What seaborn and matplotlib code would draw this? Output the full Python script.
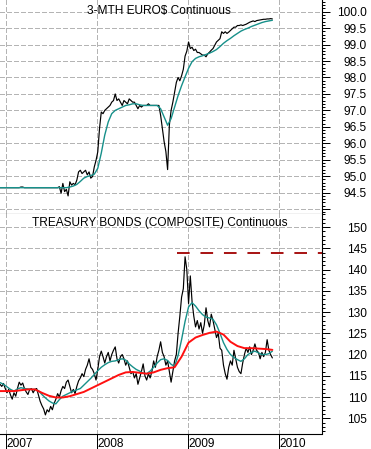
import matplotlib
matplotlib.use("Agg")
import matplotlib.pyplot as plt
import matplotlib.dates as mdates
import matplotlib.ticker as mticker
import pandas as pd
import seaborn as sns

# weekly closes, first week ending 2006-12-08
first_week = "2006-12-08"

euro_close = [
    94.65, 94.65, 94.65, 94.65, 94.65, 94.65, 94.65, 94.65, 94.65, 94.65,
    94.65, 94.65, 94.67, 94.67, 94.65, 94.65, 94.65, 94.65, 94.65, 94.65,
    94.65, 94.65, 94.65, 94.65, 94.65, 94.65, 94.65, 94.65, 94.65, 94.65,
    94.65, 94.65, 94.65, 94.65, 94.68, 94.48, 94.78, 94.53, 94.60, 94.40,
    94.83, 94.73, 94.78, 94.74, 94.88, 95.13, 95.18, 95.08, 95.13, 95.18,
    95.04, 95.13, 94.94, 94.99, 95.28, 95.48, 95.74, 96.45, 96.95, 96.90,
    97.00, 97.05, 97.10, 97.15, 97.25, 97.30, 97.50, 97.30, 97.35, 97.25,
    97.15, 97.30, 97.25, 97.20, 97.35, 97.30, 97.25, 97.25, 97.15, 97.05,
    97.15, 97.10, 97.15, 97.15, 97.15, 97.20, 97.15, 97.15, 97.15, 97.15,
    97.15, 97.15, 96.85, 96.45, 96.05, 95.75, 95.20, 96.55, 97.00, 97.25,
    97.55, 97.85, 98.00, 97.90, 98.05, 98.25, 98.65, 98.80, 99.08, 98.88,
    98.92, 98.82, 98.86, 98.76, 98.76, 98.72, 98.68, 98.68, 98.63, 98.72,
    98.77, 98.83, 98.88, 98.98, 99.08, 99.13, 99.18, 99.39, 99.34, 99.39,
    99.34, 99.38, 99.43, 99.48, 99.53, 99.53, 99.58, 99.58, 99.60, 99.58,
    99.60, 99.62, 99.65, 99.68, 99.70, 99.72, 99.70, 99.73, 99.74, 99.75,
    99.76, 99.77, 99.77, 99.78, 99.78, 99.79, 99.78,
]

# moving average, every two weeks
euro_ma = [
    94.65, 94.65, 94.65, 94.65, 94.65, 94.65, 94.65, 94.65, 94.65, 94.65,
    94.65, 94.65, 94.65, 94.65, 94.65, 94.65, 94.65, 94.65, 94.65, 94.65,
    94.67, 94.70, 94.75, 94.84, 94.94, 94.99, 95.02, 95.06, 95.24, 95.70,
    96.25, 96.65, 96.90, 97.00, 97.05, 97.10, 97.15, 97.17, 97.20, 97.20,
    97.17, 97.15, 97.15, 97.15, 97.15, 97.15, 97.05, 96.80, 96.55, 96.75,
    97.10, 97.45, 97.75, 98.02, 98.28, 98.48, 98.58, 98.63, 98.66, 98.70,
    98.74, 98.79, 98.85, 98.94, 99.04, 99.12, 99.19, 99.27, 99.34, 99.41,
    99.46, 99.50, 99.55, 99.59, 99.63, 99.67, 99.70, 99.72, 99.74,
]

bond_close = [
    113.0, 112.5, 113.2, 112.0, 111.0, 111.8, 110.5, 109.5, 111.0, 110.2,
    112.0, 113.5, 112.8, 113.3, 112.0, 111.2, 110.6, 111.8, 112.0, 111.0,
    111.8, 112.0, 110.5, 109.0, 108.0, 107.2, 105.8, 107.0, 106.5, 107.8,
    107.0, 108.5, 109.5, 110.8, 110.0, 111.5, 112.5, 112.0, 113.5, 114.0,
    112.5, 111.0, 111.8, 110.8, 112.5, 113.8, 114.5, 115.5, 114.8, 116.5,
    117.5, 119.0, 117.0, 116.5, 115.5, 114.0, 116.5, 119.5, 120.8, 119.5,
    118.0, 119.5, 120.5, 118.5, 120.0, 121.0, 121.8, 119.0, 118.0, 119.5,
    120.0, 119.0, 117.5, 118.5, 117.0, 115.5, 116.0, 114.5, 115.5, 113.0,
    114.5, 116.0, 117.8, 115.0, 114.0, 115.5, 114.5, 116.0, 118.5, 117.0,
    119.5, 121.0, 123.0, 120.5, 119.5, 117.5, 118.5, 116.0, 113.5, 116.0,
    118.5, 120.0, 125.0, 129.0, 133.5, 135.5, 143.0, 140.0, 132.0, 138.5,
    132.5, 129.0, 126.5, 128.0, 126.0, 127.5, 125.0, 127.0, 131.0, 128.0,
    126.5, 129.5, 128.0, 126.0, 124.0, 125.0, 121.5, 121.0, 117.5, 115.5,
    114.2, 117.0, 118.5, 117.5, 121.0, 119.0, 117.0, 116.0, 115.5, 118.0,
    120.0, 121.5, 120.5, 121.8, 120.0, 121.0, 122.5, 121.0, 120.5, 119.0,
    120.5, 119.5, 120.5, 123.5, 121.0, 120.0, 119.2,
]

# short average, every two weeks
bond_ma_short = [
    113.4, 113.0, 112.4, 111.8, 111.4, 111.9, 112.2, 112.0, 111.9, 111.8,
    111.8, 111.5, 110.6, 109.8, 109.1, 108.6, 108.4, 109.4, 110.2, 110.6,
    111.0, 111.4, 111.7, 112.0, 112.8, 113.6, 114.4, 115.3, 116.2, 117.0,
    117.6, 118.1, 118.4, 118.5, 118.8, 119.0, 118.7, 117.8, 117.1, 116.5,
    116.1, 115.6, 115.5, 116.1, 117.0, 118.0, 118.8, 119.0, 118.6, 117.7,
    117.2, 119.8, 123.5, 127.8, 131.2, 132.2, 131.4, 130.3, 129.4, 128.8,
    128.6, 128.3, 127.0, 125.0, 122.8, 121.2, 120.0, 119.3, 118.8, 118.4,
    119.0, 120.0, 120.5, 120.8, 120.4, 120.0, 120.0, 120.2, 120.8,
]

# long average, every four weeks
bond_ma_long = [
    111.4, 111.4, 111.4, 111.6, 111.8, 111.8, 111.0, 110.3, 109.9, 109.9,
    110.2, 110.7, 111.2, 112.0, 112.8, 113.6, 114.4, 115.2, 115.8, 115.9,
    115.7, 115.5, 115.8, 116.4, 116.8, 117.0, 119.5, 122.8, 124.0, 124.6,
    125.1, 125.4, 124.7, 123.0, 122.0, 121.5, 121.5, 121.4, 121.3, 121.1,
]

euro_title = "3-MTH EURO$ Continuous"
bond_title = "TREASURY BONDS (COMPOSITE) Continuous"
resistance_level = 144.0
resistance_start = "2008-11-16"

euro_ticks = [94.0, 94.5, 95.0, 95.5, 96.0, 96.5, 97.0, 97.5, 98.0, 98.5, 99.0, 99.5, 100.0]
bond_ticks = [105, 110, 115, 120, 125, 130, 135, 140, 145, 150]
year_starts = ["2007-01-01", "2008-01-01", "2009-01-01", "2010-01-01"]

x_start = pd.Timestamp("2006-12-08")
x_end = pd.Timestamp("2010-06-21")

weeks = pd.date_range(first_week, periods=len(euro_close), freq="7D")
fortnights = pd.date_range(first_week, periods=len(euro_ma), freq="14D")
four_weeks = pd.date_range(first_week, periods=len(bond_ma_long), freq="28D")

sns.set_theme(style="white")
plt.rcParams["font.family"] = ["Liberation Sans", "DejaVu Sans"]
plt.rcParams["text.color"] = "black"
plt.rcParams["axes.edgecolor"] = "black"
plt.rcParams["xtick.color"] = "black"
plt.rcParams["ytick.color"] = "black"

BLACK = "black"
TEAL = "#17908a"
RED = "#ff1010"
GRID = "#b4b4b4"
GRID_DASH = (0, (4, 2.5))
FS = 8.6

fig = plt.figure(figsize=(3.71, 4.49), dpi=100)
fig.patch.set_facecolor("white")
ax1 = fig.add_axes([0, 235 / 449, 322 / 371, 214 / 449])
ax2 = fig.add_axes([0, 15.5 / 449, 322 / 371, 219.5 / 449])

# dashed grid drawn by hand at the tick values, under the data
for ax, ticks in ((ax1, euro_ticks), (ax2, bond_ticks)):
    for v in ticks:
        ax.axhline(v, color=GRID, linestyle=GRID_DASH, linewidth=0.75,
                   antialiased=False, zorder=0.5)
    for d in year_starts:
        ax.axvline(pd.Timestamp(d), color=GRID, linestyle=GRID_DASH, linewidth=0.75,
                   antialiased=False, zorder=0.5)

# top panel
sns.lineplot(x=weeks, y=euro_close, ax=ax1, color=BLACK, linewidth=0.85, legend=False)
sns.lineplot(x=fortnights, y=euro_ma, ax=ax1, color=TEAL, linewidth=1.0, legend=False)

# bottom panel
sns.lineplot(x=weeks, y=bond_close, ax=ax2, color=BLACK, linewidth=0.85, legend=False)
sns.lineplot(x=fortnights, y=bond_ma_short, ax=ax2, color=TEAL, linewidth=1.0, legend=False)
sns.lineplot(x=four_weeks, y=bond_ma_long, ax=ax2, color=RED, linewidth=1.4, legend=False)
res = ax2.hlines(resistance_level, pd.Timestamp(resistance_start), x_end,
                 color="#a00000", linewidth=1.3)
res.set_linestyle((0, (7, 6)))

ax1.set_ylim(93.85, 100.356)
ax2.set_ylim(101.42, 153.07)

for ax in (ax1, ax2):
    ax.set_xlim(x_start, x_end)
    ax.set_xlabel("")
    ax.set_ylabel("")
    ax.set_facecolor("white")
    ax.grid(False)
    ax.xaxis.set_major_locator(mdates.YearLocator())
    ax.xaxis.set_major_formatter(mdates.DateFormatter("%Y"))
    ax.xaxis.set_minor_locator(mticker.NullLocator())
    ax.yaxis.tick_right()
    for side in ("left", "top"):
        ax.spines[side].set_visible(False)
    for side in ("right", "bottom"):
        ax.spines[side].set_visible(True)
        ax.spines[side].set_linewidth(0.8)
        ax.spines[side].set_color("black")
    ax.tick_params(axis="y", which="major", left=False, right=True, length=5.4,
                   width=0.72, pad=27, labelsize=FS, direction="out")
    ax.tick_params(axis="y", which="minor", left=False, right=True, length=2.5,
                   width=0.72, direction="out")

ax1.set_yticks(euro_ticks, labels=["" if v == 94.0 else f"{v:.1f}" for v in euro_ticks])
ax1.yaxis.set_minor_locator(mticker.MultipleLocator(0.1))
ax2.set_yticks(bond_ticks, labels=[str(v) for v in bond_ticks])
ax2.yaxis.set_minor_locator(mticker.MultipleLocator(1))

ax1.tick_params(axis="x", bottom=False, labelbottom=False)
ax2.tick_params(axis="x", bottom=True, length=12, width=0.72, pad=-8.6,
                labelsize=FS, direction="out")

for ax in (ax1, ax2):
    for t in ax.yaxis.get_major_ticks():
        t.label2.set_horizontalalignment("right")
for t in ax2.xaxis.get_major_ticks():
    t.label1.set_horizontalalignment("left")

ax1.text(0.495, 0.95, euro_title, transform=ax1.transAxes, ha="center",
         va="center", fontsize=FS)
ax2.text(0.495, 0.958, bond_title, transform=ax2.transAxes, ha="center",
         va="center", fontsize=FS)

fig.savefig("out.png", dpi=100, facecolor="white")
